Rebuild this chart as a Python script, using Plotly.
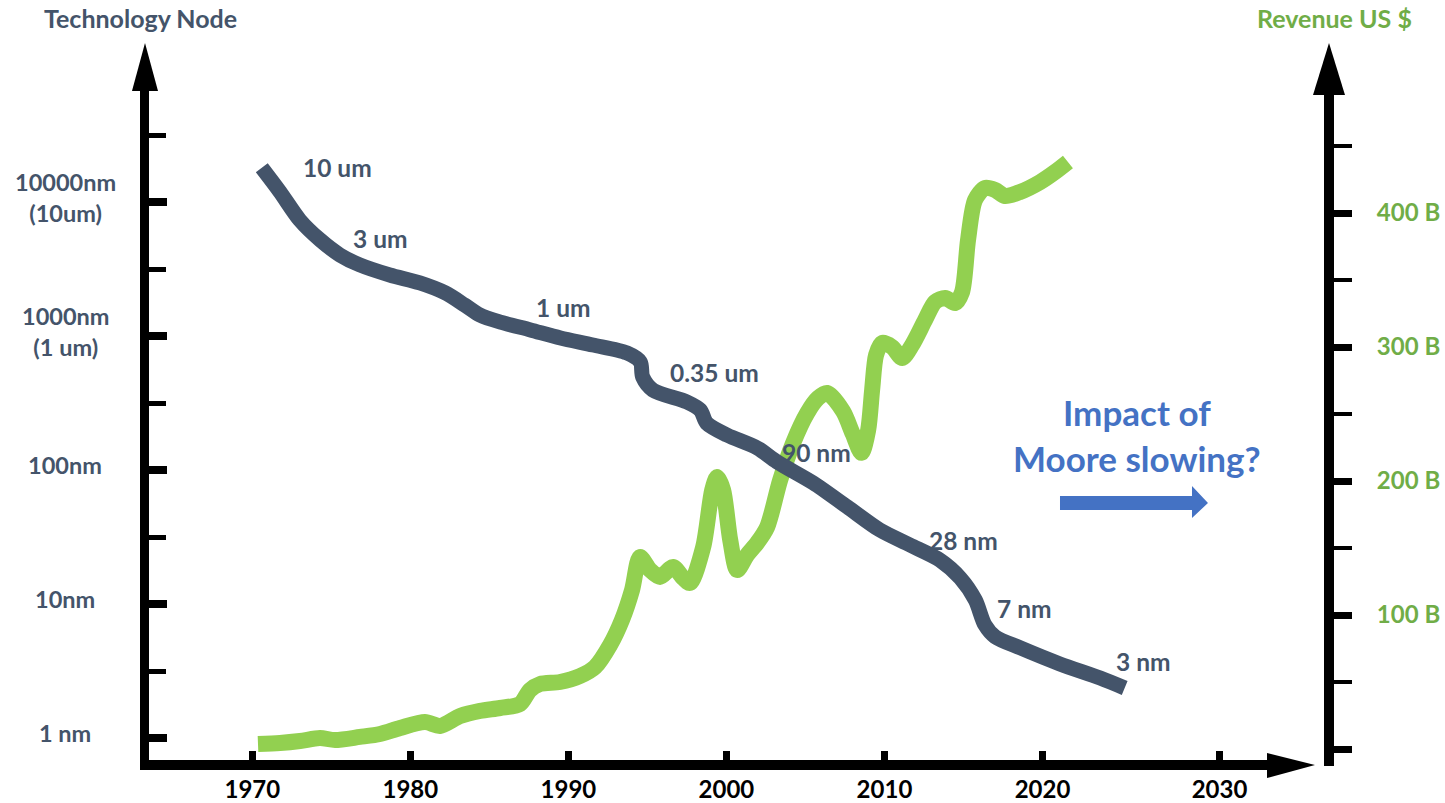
import plotly.graph_objects as go
import math

# ---------------- data ----------------
node_years = [1970.6, 1971.75, 1973.0, 1974.3, 1975.55, 1976.8, 1978.7, 1980.6, 1982.2, 1983.45,
              1984.4, 1985.7, 1987.6, 1989.5, 1991.55, 1993.7, 1994.55, 1994.7, 1995.35, 1997.5,
              1998.35, 1998.75, 2000.05, 2001.95, 2003.2, 2005.5, 2007.65, 2009.7, 2011.6, 2013.5,
              2014.8, 2015.75, 2016.35, 2017.0, 2018.6, 2021.1, 2023.65, 2025.2]
node_nm = [18000, 11900, 7340, 5200, 4020, 3390, 2850, 2490, 2100, 1700,
           1435, 1270, 1110, 966, 857, 747, 640, 494, 395, 322,
           280, 224, 182, 146, 115, 80, 53, 35.7, 27.6, 21.3,
           15.6, 10.7, 7.0, 5.7, 4.7, 3.57, 2.80, 2.36]

rev_years = [1970.36, 1971.75, 1973.02, 1974.28, 1975.23, 1976.81, 1978.08, 1979.35, 1980.93, 1981.88,
             1983.15, 1984.41, 1985.68, 1986.94, 1987.57, 1988.21, 1989.47, 1990.74, 1991.69, 1992.64,
             1993.39, 1994.03, 1994.53, 1995.17, 1995.80, 1996.63, 1997.26, 1997.70, 1998.53, 1999.10,
             1999.41, 1999.79, 2000.24, 2000.68, 2001.31, 2001.94, 2002.58, 2003.40, 2004.22, 2005.11,
             2005.80, 2006.37, 2007.38, 2008.0, 2008.55, 2008.97, 2009.22, 2009.47,
             2009.85, 2010.48, 2011.12, 2011.75, 2012.57, 2013.20, 2013.84, 2014.47, 2014.91, 2015.29,
             2015.73, 2016.36, 2017.00, 2017.63, 2018.58, 2019.85, 2020.79, 2021.61]
rev_busd = [3.7, 4.5, 6.0, 8.2, 6.7, 9.0, 11.2, 15.7, 20.1, 17.2,
            24.6, 28.4, 30.6, 33.6, 44.0, 48.5, 50.0, 54.5, 61.2, 77.6,
            96.3, 118.7, 143.3, 133.6, 128.4, 135.8, 127.6, 123.9, 150.7, 193.3,
            203.0, 193.3, 156.0, 133.6, 144.8, 153.7, 165.7, 200.7, 228.4, 250.7,
            261.9, 265.7, 252.0, 235.0, 221.0, 238.1, 267.9, 294.0,
            303.0, 300.0, 291.8, 301.5, 320.1, 333.6, 336.6, 332.8, 341.0, 379.9,
            409.7, 418.7, 417.2, 412.7, 415.7, 423.1, 430.6, 438.1]

year_ticks = [1970, 1980, 1990, 2000, 2010, 2020, 2030]
year_tick_pos = [1970, 1980, 1990, 2000, 2010, 2020, 2031.2]

node_tick_vals = [1, 10, 100, 1000, 10000]
node_tick_text = ["1 nm", "10nm", "100nm", "1000nm<br>(1 um)", "10000nm<br>(10um)"]
node_minor_vals = [10 ** 0.5, 10 ** 1.5, 10 ** 2.5, 10 ** 3.5, 10 ** 4.5]

rev_tick_vals = [0, 100, 200, 300, 400]
rev_tick_text = ["", "100 B", "200 B", "300 B", "400 B"]
rev_minor_vals = [50, 150, 250, 350, 450]

node_labels = ["10 um", "3 um", "1 um", "0.35 um", "90 nm", "28 nm", "7 nm", "3 nm"]
node_label_years = [1975.36, 1978.14, 1989.66, 1999.26, 2005.72, 2014.97, 2018.83, 2026.36]
node_label_nm = [17950, 5380, 1640, 530, 136, 30, 9.2, 3.7]

# ---------------- styling ----------------
W, H = 1445, 803
L, R, T, B = 145, 116, 43, 38
PW, PH = W - L - R, H - T - B
FONT = "Lato"
SLATE = "#44546A"
GREEN_TXT = "#70AD47"
GREEN_LINE = "#92D050"
BLUE = "#4472C4"


def px(x):
    return (x - L) / PW


def py(y):
    return (H - B - y) / PH


def path(points):
    return "M " + " L ".join(f"{px(a):.5f},{py(b):.5f}" for a, b in points) + " Z"


fig = go.Figure()

fig.add_trace(go.Scatter(x=rev_years, y=rev_busd, mode="lines", yaxis="y",
                         line=dict(color=GREEN_LINE, width=16, shape="spline", smoothing=0.8),
                         hoverinfo="skip", showlegend=False))
fig.add_trace(go.Scatter(x=node_years, y=node_nm, mode="lines", yaxis="y2",
                         line=dict(color=SLATE, width=15, shape="spline", smoothing=0.8),
                         hoverinfo="skip", showlegend=False))

shapes = [
    dict(type="line", xref="paper", yref="paper", x0=px(144.5), x1=px(144.5), y0=py(770), y1=py(88),
         line=dict(color="black", width=9)),
    dict(type="line", xref="paper", yref="paper", x0=px(1329), x1=px(1329), y0=py(766), y1=py(92),
         line=dict(color="black", width=10)),
    dict(type="line", xref="paper", yref="paper", x0=px(140), x1=px(1270), y0=py(765), y1=py(765),
         line=dict(color="black", width=10)),
    dict(type="path", xref="paper", yref="paper", path=path([(145, 43), (158, 91), (132, 91)]),
         fillcolor="black", line=dict(width=0)),
    dict(type="path", xref="paper", yref="paper", path=path([(1329, 43), (1345, 95), (1313, 95)]),
         fillcolor="black", line=dict(width=0)),
    dict(type="path", xref="paper", yref="paper", path=path([(1315, 765), (1267, 753), (1267, 778)]),
         fillcolor="black", line=dict(width=0)),
    dict(type="path", xref="paper", yref="paper",
         path=path([(1060, 496), (1192, 496), (1192, 486), (1208, 503), (1192, 518), (1192, 510), (1060, 510)]),
         fillcolor=BLUE, line=dict(width=0)),
]

annotations = []
for txt, v in zip(node_tick_text, node_tick_vals):
    annotations.append(dict(text=txt, xref="paper", yref="y2", x=px(65), y=math.log10(v), yshift=5,
                            xanchor="center", yanchor="middle", showarrow=False, align="center",
                            font=dict(family=FONT, size=23.5, color=SLATE, weight="bold")))
for txt, xv, nv in zip(node_labels, node_label_years, node_label_nm):
    annotations.append(dict(text=txt, xref="x", yref="y2", x=xv, y=math.log10(nv),
                            xanchor="center", yanchor="middle", showarrow=False,
                            font=dict(family=FONT, size=24.5, color=SLATE, weight="bold")))
annotations += [
    dict(text="Technology Node", xref="paper", yref="paper", x=px(140.5), y=py(18), xanchor="center",
         yanchor="middle", showarrow=False, font=dict(family=FONT, size=25, color=SLATE, weight="bold")),
    dict(text="Revenue US $", xref="paper", yref="paper", x=px(1334), y=py(18), xanchor="center",
         yanchor="middle", showarrow=False, font=dict(family=FONT, size=25, color=GREEN_TXT, weight="bold")),
    dict(text="Impact of<br>Moore slowing?", xref="paper", yref="paper", x=px(1137), y=py(435),
         xanchor="center", yanchor="middle", showarrow=False, align="center",
         font=dict(family=FONT, size=35, color=BLUE, weight="bold")),
]

fig.update_layout(
    template="none",
    width=W, height=H, margin=dict(l=L, r=R, t=T, b=B, autoexpand=False),
    paper_bgcolor="white", plot_bgcolor="white",
    shapes=shapes, annotations=annotations,
    xaxis=dict(range=[1970 - (252.3 - L) / 15.804, 1970 - (252.3 - L) / 15.804 + PW / 15.804],
               tickvals=year_tick_pos, ticktext=[str(y) for y in year_ticks],
               ticks="inside", ticklen=14, tickwidth=7, tickcolor="black",
               tickfont=dict(family=FONT, size=24, color="black", weight="bold"),
               ticklabelstandoff=8, automargin=False,
               showgrid=False, zeroline=False, showline=False, fixedrange=True),
    yaxis=dict(range=[-(H - B - 749) / 1.34, -(H - B - 749) / 1.34 + PH / 1.34], side="right",
               tickvals=rev_tick_vals, ticktext=rev_tick_text,
               ticks="outside", ticklen=22, tickwidth=7, tickcolor="black",
               minor=dict(tickvals=rev_minor_vals, ticks="outside", ticklen=22, tickwidth=4, tickcolor="black"),
               tickfont=dict(family=FONT, size=24, color=GREEN_TXT, weight="bold"),
               ticklabelstandoff=20, automargin=False,
               showgrid=False, zeroline=False, showline=False, fixedrange=True),
    yaxis2=dict(type="log", overlaying="y", side="left",
                range=[-(H - B - 738) / 134, -(H - B - 738) / 134 + PH / 134],
                tickvals=node_tick_vals, showticklabels=False,
                ticks="inside", ticklen=22, tickwidth=8, tickcolor="black",
                minor=dict(tickvals=node_minor_vals, ticks="inside", ticklen=21, tickwidth=5, tickcolor="black"),
                automargin=False,
                showgrid=False, zeroline=False, showline=False, fixedrange=True),
)

fig.write_html("out.html")
